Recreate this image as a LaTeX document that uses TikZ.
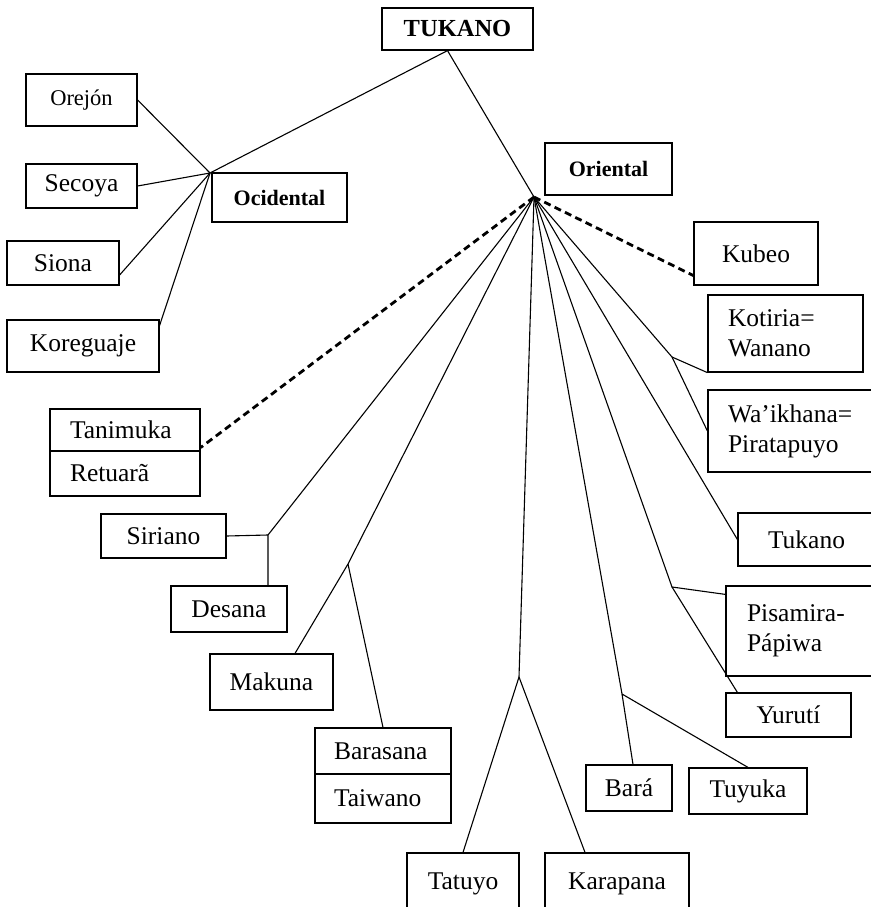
\documentclass[tikz,border=0pt]{standalone}
\usepackage{fontspec}
\setmainfont{Liberation Serif}

\begin{document}
\begin{tikzpicture}[x=1pt,y=-1pt,
  lang/.style={draw=black,line width=1.2pt,inner sep=0pt,align=center,
    font=\fontsize{25.5}{30}\selectfont},
  group/.style={lang,font={\fontsize{22}{26}\selectfont\bfseries}},
  twin/.style={lang,align=left,inner xsep=20pt},
  branch/.style={black,line width=1.1pt},
  loan/.style={black,line width=2.8pt,dash pattern=on 7pt off 4.5pt}]
  \useasboundingbox (0,0) rectangle (870,907);

  % Family and the two branches.
  \node[group,font={\fontsize{24.5}{28}\selectfont\bfseries},
    minimum width=151,minimum height=42] (tukanofam) at (457.5,29) {TUKANO};
  \node[group,minimum width=135,minimum height=49] (ocidental) at (279.5,197.5) {Ocidental};
  \node[group,minimum width=127,minimum height=52] (oriental) at (608.5,169) {Oriental};
  \coordinate (ocj) at (210,173);
  \coordinate (orj) at (534,197);

  % Western languages.
  \node[lang,font=\fontsize{22.5}{26}\selectfont,minimum width=111,minimum height=52]
    (orejon) at (81.5,100) {Orejón};
  \node[lang,minimum width=111,minimum height=44] (secoya) at (81.5,186) {Secoya};
  \node[lang,minimum width=112,minimum height=44] (siona) at (63,263) {Siona};
  \node[lang,minimum width=152,minimum height=52] (koreguaje) at (83,346) {Koreguaje};

  % Eastern languages.
  \node[lang,minimum width=124,minimum height=63] (kubeo) at (756,253.5) {Kubeo};
  \node[twin,text width=115,minimum height=77] (kotiria) at (785.5,333.5)
    {Kotiria=\\Wanano};
  \node[twin,text width=127,minimum height=82] (waikhana) at (791.5,431)
    {Wa’ikhana=\\Piratapuyo};
  \node[twin,text width=110,minimum height=42] (tanimuka) at (125,430) {Tanimuka};
  \node[twin,text width=110,minimum height=45] (retuara) at (125,473.5) {Retuarã};
  \node[lang,minimum width=125,minimum height=44] (siriano) at (163.5,536) {Siriano};
  \node[lang,minimum width=116,minimum height=46] (desana) at (229,609) {Desana};
  \node[lang,minimum width=123,minimum height=56] (makuna) at (271.5,682) {Makuna};
  \node[twin,text width=98,inner xsep=19pt,minimum height=46] (barasana) at (383,751) {Barasana};
  \node[twin,text width=98,inner xsep=19pt,minimum height=49] (taiwano) at (383,798.5) {Taiwano};
  \node[lang,minimum width=112,minimum height=62] (tatuyo) at (463,884) {Tatuyo};
  \node[lang,minimum width=144,minimum height=62] (karapana) at (617,884) {Karapana};
  \node[lang,minimum width=86,minimum height=46] (bara) at (629,788) {Bará};
  \node[lang,minimum width=118,minimum height=46] (tuyuka) at (748,791) {Tuyuka};
  \node[lang,minimum width=137,minimum height=53] (tukano) at (806.5,539.5) {Tukano};
  \node[twin,text width=107,inner xsep=21pt,minimum height=90] (pisamira) at (800.5,631)
    {Pisamira-\\Pápiwa};
  \node[lang,minimum width=125,minimum height=44] (yuruti) at (788.5,715) {Yurutí};

  % Inner branching points.
  \coordinate (kwj) at (672,357);
  \coordinate (sdj) at (268,535);
  \coordinate (mbj) at (348,564);
  \coordinate (tkj) at (519,677);
  \coordinate (btj) at (622,694);
  \coordinate (pyj) at (672,587);

  % Western subgroup.
  \draw[branch] ([xshift=-10pt]tukanofam.south) -- (ocj);
  \draw[branch] (orejon.east) -- (ocj);
  \draw[branch] (secoya.east) -- (ocj);
  \draw[branch] (siona.-12) -- (ocj);
  \draw[branch] (koreguaje.15) -- (ocj);

  % Eastern subgroup.
  \draw[branch] ([xshift=-10pt]tukanofam.south) -- (orj);
  \draw[loan] (orj) -- ([yshift=10pt]kubeo.south west);
  \draw[loan] (orj) -- ([yshift=4pt]tanimuka.south east);
  \draw[branch] (orj) -- (kwj) -- (kotiria.south west);
  \draw[branch] (kwj) -- (waikhana.west);
  \draw[branch] (orj) -- (tukano.west);
  \draw[branch] (orj) -- (pyj) -- ([yshift=-9pt]pisamira.north west);
  \draw[branch] (pyj) -- ([xshift=12pt]yuruti.north west);
  \draw[branch] (orj) -- (btj) -- ([xshift=4pt]bara.north);
  \draw[branch] (btj) -- (tuyuka.north);
  \draw[branch] (orj) -- (tkj) -- (tatuyo.north);
  \draw[branch] (tkj) -- ([xshift=-32pt]karapana.north);
  \draw[branch] (orj) -- (mbj) -- ([xshift=23.5pt]makuna.north);
  \draw[branch] (mbj) -- (barasana.north);
  \draw[branch] (orj) -- (sdj) -- (sdj |- desana.north);
  \draw[branch] (siriano.east) -- (sdj);
\end{tikzpicture}
\end{document}
